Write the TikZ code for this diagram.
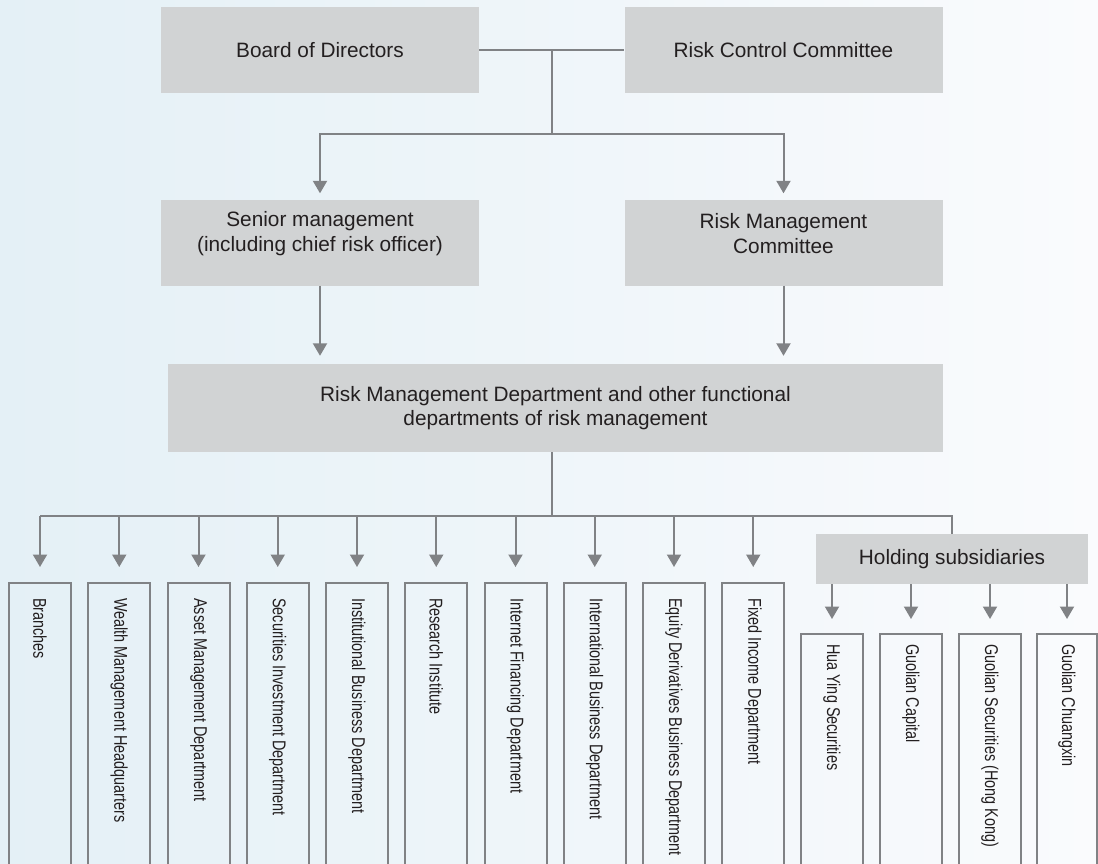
\documentclass[tikz,border=0pt]{standalone}
\usepackage{fontspec}
\setmainfont{Liberation Sans}
\newfontfamily\condfont[FakeStretch=0.78]{Liberation Sans}
\usetikzlibrary{arrows.meta,calc}
\definecolor{boxgray}{RGB}{209,211,212}
\definecolor{linegray}{RGB}{128,130,133}
\definecolor{txt}{RGB}{35,31,32}
\definecolor{bgL}{RGB}{228,240,246}
\definecolor{bgR}{RGB}{250,251,253}
\begin{document}
\begin{tikzpicture}[x=1pt,y=-1pt,
  boxtext/.style={text=txt, align=center, font=\fontsize{20.8}{24.5}\selectfont, inner sep=0pt},
  graybox/.style={rectangle, fill=boxgray, draw=none, boxtext},
  bigbox/.style={graybox, minimum width=318pt, minimum height=86pt},
  vbox/.style={rectangle, draw=linegray, line width=2pt, minimum width=62pt,
    minimum height=330pt, anchor=north, inner sep=0pt},
  vlabel/.style={rotate=-90, anchor=west, inner sep=0pt, text=txt,
    font=\condfont\fontsize{18.5}{20}\selectfont},
  conn/.style={draw=linegray, line width=2pt},
  arr/.style={conn, -{Triangle[width=14pt,length=12.5pt]}},
]
\useasboundingbox (0,0) rectangle (1098,863);
\clip (0,0) rectangle (1098,863);
\fill[left color=bgL, right color=bgR] (0,0) rectangle (1098,863);

% top level
\node[bigbox] (board) at (320,50) {Board of Directors};
\node[bigbox] (rcc) at (783.5,50) {Risk Control Committee};
\node[bigbox] (senior) at (320,242.5) {};
\node[boxtext] (seniort) at ([yshift=9pt]senior.center) {Senior management\\(including chief risk officer)};
\node[bigbox] (rmc) at (783.5,242.5) {};
\node[boxtext] (rmct) at ([yshift=9pt]rmc.center) {Risk Management\\Committee};
\node[graybox, minimum width=775pt, minimum height=88pt] (rmd) at (555.5,408)
  {Risk Management Department and other functional\\departments of risk management};
\node[graybox, minimum width=272pt, minimum height=50pt] (hold) at (952,559) {Holding subsidiaries};

\coordinate (j1) at ($(board.east)!0.5!(rcc.west)$);
\coordinate (j2) at ([yshift=-84pt]j1);
\draw[conn] (board.east) -- (rcc.west);
\draw[conn] (j1) -- (j2);
\draw[arr, shorten >=6pt] (j2) -| (senior.north);
\draw[arr, shorten >=6pt] (j2) -| (rmc.north);
\draw[arr, shorten >=8pt] (senior.south) -- (senior.south |- rmd.north);
\draw[arr, shorten >=8pt] (rmc.south) -- (rmc.south |- rmd.north);

% departments
\foreach \i/\name in {0/Branches,1/Wealth Management Headquarters,2/Asset Management Department,
  3/Securities Investment Department,4/Institutional Business Department,5/Research Institute,
  6/Internet Financing Department,7/International Business Department,
  8/Equity Derivatives Business Department,9/Fixed Income Department}{
  \node[vbox] (d\i) at (40+79.25*\i,582) {};
  \node[vlabel] (d\i t) at ([yshift=-16pt]d\i.north) {\name};
}
\coordinate (j3) at (552,516);
\draw[conn] (rmd.south -| j3) -- (j3);
\draw[conn] (d0.north |- j3) -- (j3 -| hold.north) -- (hold.north);
\foreach \i in {0,...,9}{
  \draw[arr, shorten >=15pt] (d\i.north |- j3) -- (d\i.north);
}

% subsidiaries
\foreach \i/\x/\w/\name in {0/832/62/Hua Ying Securities,1/911/62/Guolian Capital,
  2/990/62/Guolian Securities (Hong Kong),3/1067/60/Guolian Chuangxin}{
  \node[vbox, minimum width=\w pt] (s\i) at (\x,633) {};
  \node[vlabel] (s\i t) at ([yshift=-11pt]s\i.north) {\name};
  \draw[arr, shorten >=14pt] (hold.south -| s\i.north) -- (s\i.north);
}
\end{tikzpicture}
\end{document}
